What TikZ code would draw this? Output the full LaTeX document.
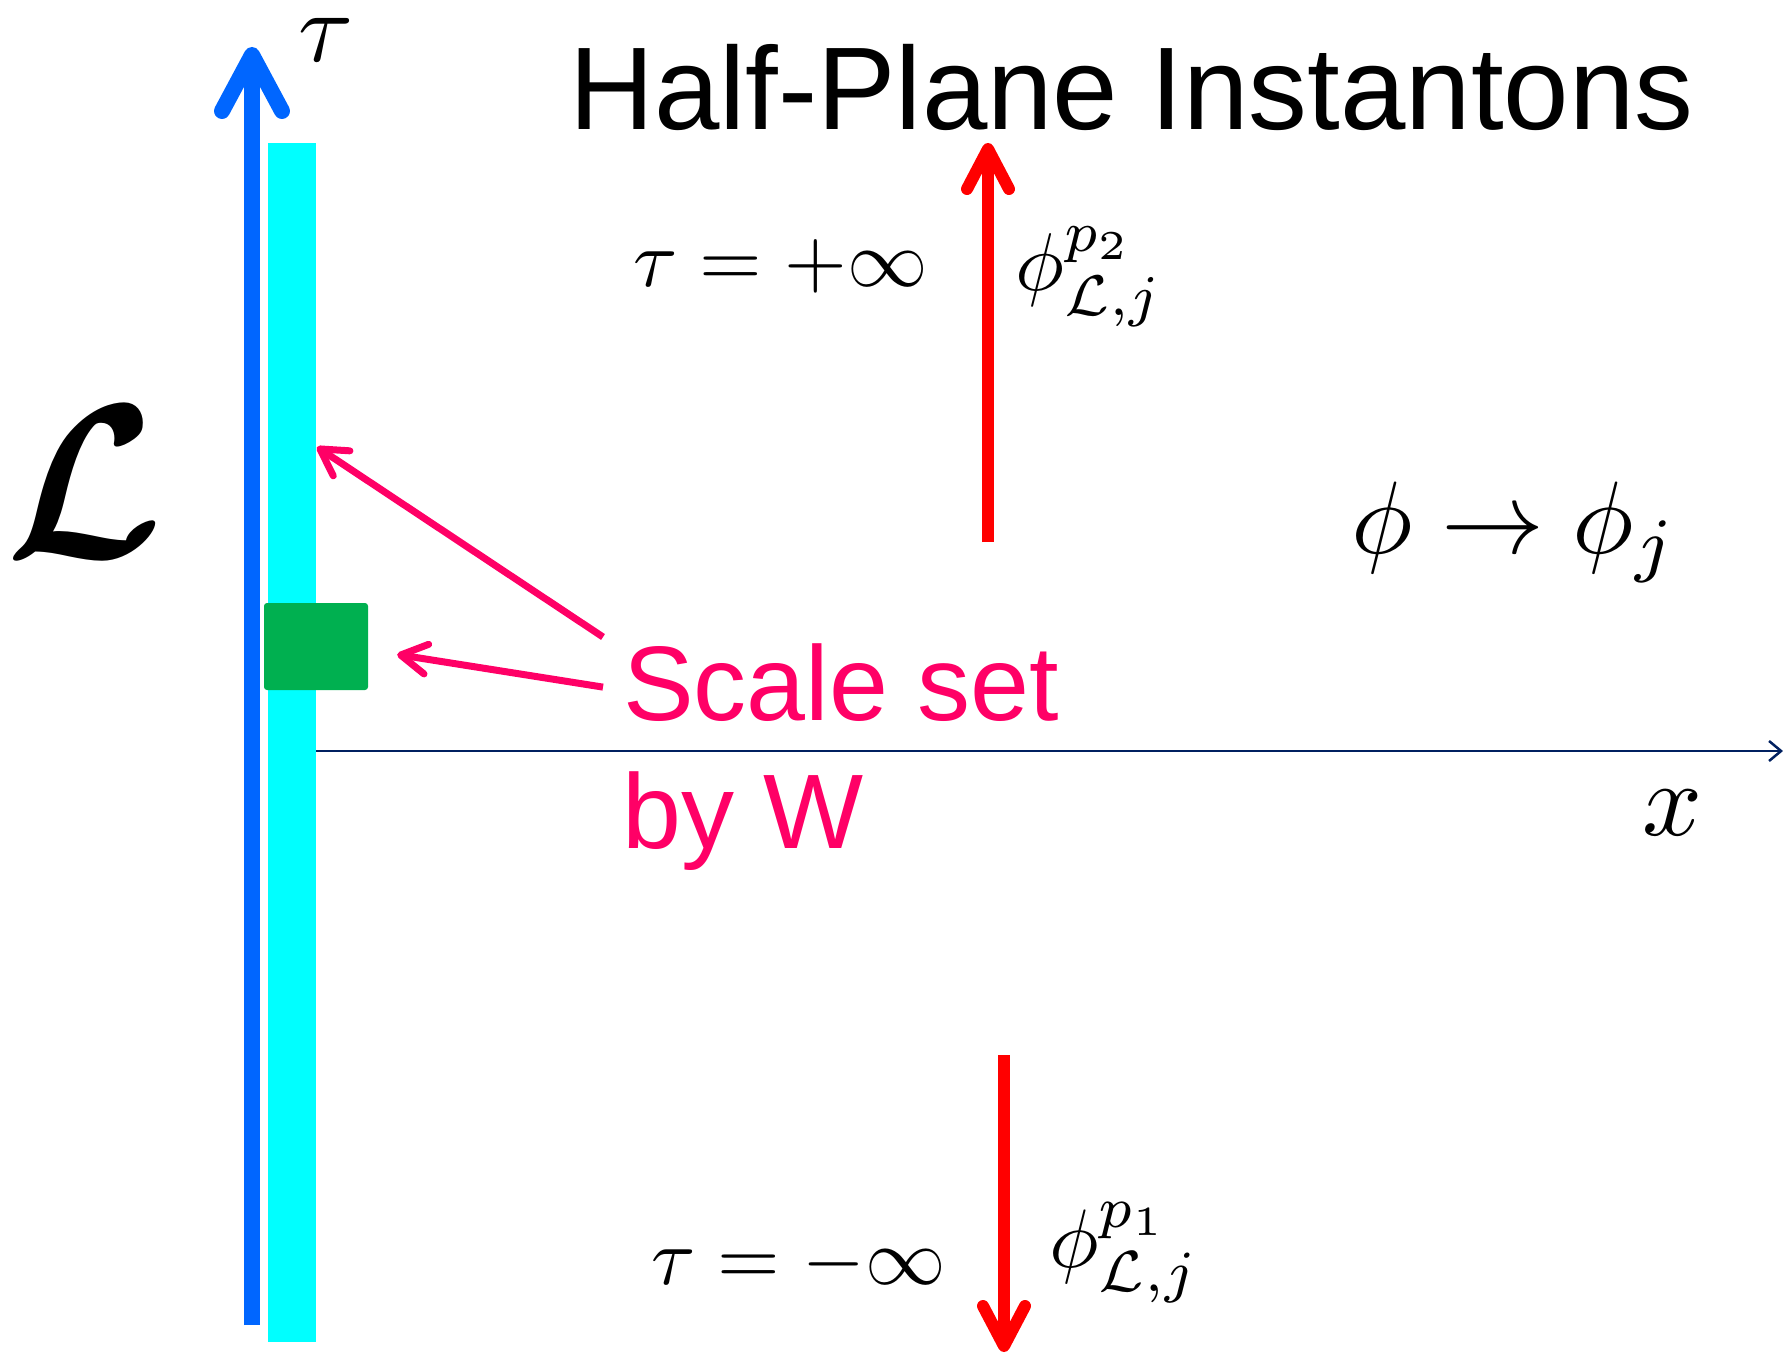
\documentclass[tikz,border=0pt]{standalone}
\usepackage{amsmath}
\usepackage{bm}
\usepackage{fontspec}
\setsansfont{Liberation Sans}
\usetikzlibrary{arrows.meta}
\usetikzlibrary{calc}

\definecolor{tauarrow}{RGB}{0,102,255}
\definecolor{boundary}{RGB}{0,255,255}
\definecolor{scalebox}{RGB}{0,176,80}
\definecolor{scalepink}{RGB}{255,0,102}
\definecolor{xaxis}{RGB}{0,32,96}

\newcommand{\bigmath}[2]{\scalebox{#1}{$#2$}}

\tikzset{
  redarrow/.style={draw=red, line width=12pt, -{Straight Barb[length=40pt,width=42pt,round]}},
  pinkarrow/.style={draw=scalepink, line width=7pt, -{Straight Barb[length=26pt,width=30pt,round]}},
  mathlabel/.style={anchor=base west, inner sep=0pt},
  pinklabel/.style={anchor=base west, inner sep=0pt, text=scalepink, font=\sffamily\fontsize{106}{120}\selectfont},
}

\begin{document}
\begin{tikzpicture}[x=1pt,y=-1pt]
\useasboundingbox (0,0) rectangle (1783,1356);

% boundary and time direction
\fill[boundary] (268,143) rectangle (316,1342);
\coordinate (taubot) at (252,1325);
\coordinate (tautop) at (252,47);
\draw[tauarrow, line width=16pt, -{Straight Barb[length=56pt,width=60pt,round]}] (taubot) -- (tautop);
\node[mathlabel] (taulab) at (298,62) {\bigmath{10}{\tau}};
\node[mathlabel] (bdry) at (5,557) {\scalebox{20}[22]{$\bm{\mathcal{L}}$}};

\node[fill=scalebox, rounded corners=3pt, minimum width=104pt, minimum height=87pt, inner sep=0pt] (block) at (316,646.5) {};

% x axis
\coordinate (origin) at (316,751);
\coordinate (xend) at (1783,751);
\draw[xaxis, line width=2.5pt, -{Straight Barb[length=12pt,width=20pt]}] (origin) -- (xend);
\node[mathlabel] (xlab) at (1642,835) {\bigmath{10.5}{x}};

\node[anchor=base west, inner sep=0pt, font=\sffamily\fontsize{117.6}{120}\selectfont] (title) at (569,130) {Half-Plane Instantons};

% asymptotic vacua
\coordinate (upbot) at (988,542);
\coordinate (uptop) at (988,143);
\draw[redarrow] (upbot) -- (uptop);
\coordinate (dntop) at (1004,1055);
\coordinate (dnbot) at (1004,1352);
\draw[redarrow] (dntop) -- (dnbot);

\node[mathlabel] (tauplus) at (633,287) {\bigmath{8.05}{\tau = +\infty}};
\node[mathlabel] (phitwo) at (1015,291) {\bigmath{8.2}{\phi^{p_2}_{\mathcal{L},j}}};
\node[mathlabel] (tauminus) at (651,1284) {\bigmath{8.05}{\tau = -\infty}};
\node[mathlabel] (phione) at (1049,1267) {\bigmath{8.3}{\phi^{p_1}_{\mathcal{L},j}}};
\node[mathlabel] (flow) at (1351,553) {\bigmath{10.3}{\phi \to \phi_j}};

% scale
\node[pinklabel] (scale) at (623,720) {Scale set};
\node[pinklabel] (byw) at (622,848) {by W};
\coordinate (hitbar) at (317,447);
\draw[pinkarrow] ([xshift=-20pt,yshift=6pt]scale.north west) -- (hitbar);
\draw[pinkarrow] ([xshift=-20pt,yshift=-5pt]scale.west) -- ([xshift=29pt,yshift=-8pt]block.east);

\end{tikzpicture}
\end{document}
